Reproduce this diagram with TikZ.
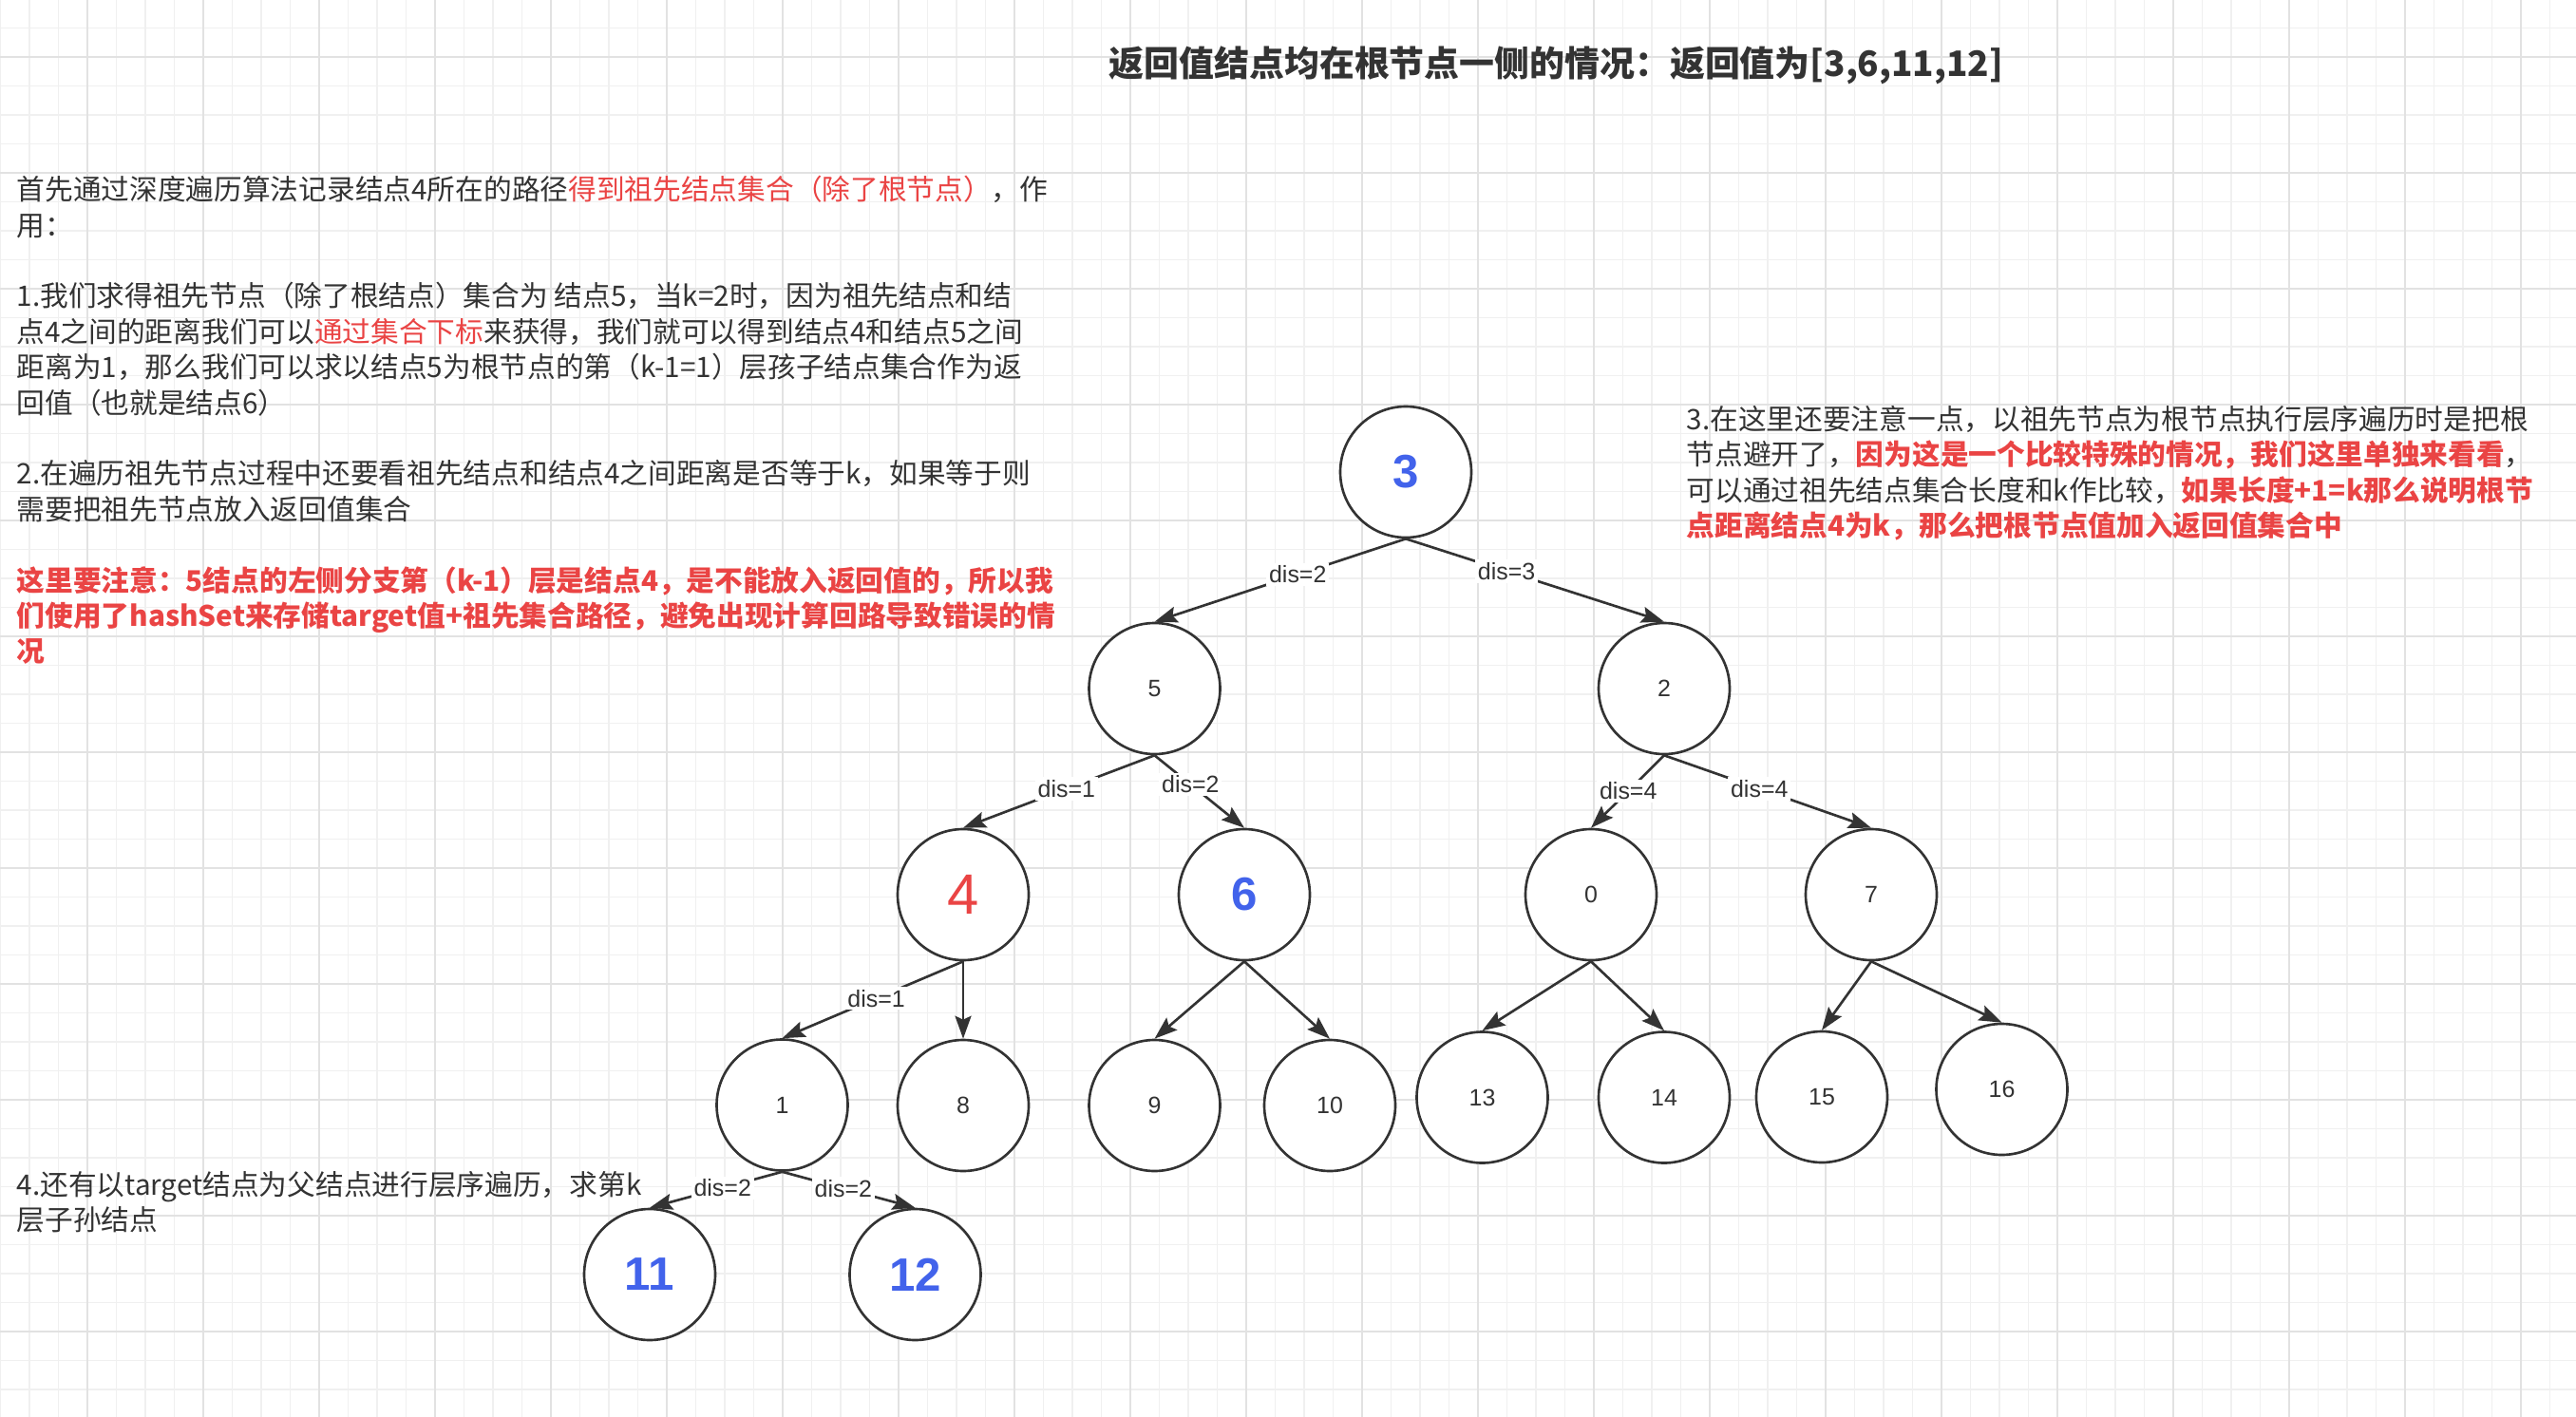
\documentclass[tikz,border=0pt]{standalone}
\usepackage{fontspec}
\setmainfont{Noto Sans CJK SC}
\newfontfamily\latfont{Liberation Sans}
\usepackage{xcolor}
\usepackage{tikz}
\usetikzlibrary{arrows.meta}
\definecolor{inkdark}{HTML}{333333}
\definecolor{notered}{HTML}{EA4444}
\definecolor{hiblue}{HTML}{4263EB}
\definecolor{gridmin}{HTML}{F0F0F0}
\definecolor{gridmaj}{HTML}{E2E2E2}
\newcommand{\redtxt}[1]{\textcolor{notered}{#1}}
\newcommand{\redbf}[1]{{\bfseries\color{notered}#1}}
\tikzset{
  btnode/.style   = {circle, draw=inkdark, line width=0.75pt, fill=white,
                     minimum size=1.38cm, inner sep=0pt, text=inkdark,
                     font=\latfont\fontsize{7.1}{8.5}\selectfont},
  btret/.style    = {btnode, text=hiblue, font=\latfont\bfseries\fontsize{14}{16}\selectfont},
  bttarget/.style = {btnode, text=notered, font=\latfont\fontsize{17}{20}\selectfont},
  btflow/.style   = {-{Stealth[length=2.4mm, width=1.7mm, inset=0.4mm]}, draw=inkdark,
                     line width=0.75pt},
  btlbl/.style    = {font=\latfont\fontsize{7.1}{8.5}\selectfont, text=inkdark,
                     fill=white, inner sep=0.3mm},
  btnote/.style   = {align=left, anchor=west, inner sep=0pt, text=inkdark,
                     font=\fontsize{8.45}{10.64}\selectfont},
  bttitle/.style  = {anchor=west, inner sep=0pt, text=inkdark,
                     font=\bfseries\fontsize{10.5}{13}\selectfont},
}
\begin{document}
\begin{tikzpicture}
  \useasboundingbox (0,0) rectangle (27.12,-14.92);
  \fill[white] (0,0) rectangle (27.12,-14.92);
  \begin{scope}[shift={(0.92,-0.60)}]
    \draw[gridmin, line width=0.5pt, step=0.305] (-0.92,0.60) grid (26.20,-14.32);
    \draw[gridmaj, line width=0.6pt, step=1.22] (-0.92,0.60) grid (26.20,-14.32);
  \end{scope}

  \node[bttitle] (title) at (11.67,-0.69) {返回值结点均在根节点一侧的情况：返回值为[3,6,11,12]};

  \node[btnote] (steps) at (0.17,-4.425) {首先通过深度遍历算法记录结点4所在的路径\redtxt{得到祖先结点集合（除了根节点）}，作\\
用：\\[10.64pt]
1.我们求得祖先节点（除了根结点）集合为 结点5，当k=2时，因为祖先结点和结\\
点4之间的距离我们可以\redtxt{通过集合下标}来获得，我们就可以得到结点4和结点5之间\\
距离为1，那么我们可以求以结点5为根节点的第（k-1=1）层孩子结点集合作为返\\
回值（也就是结点6）\\[10.64pt]
2.在遍历祖先节点过程中还要看祖先结点和结点4之间距离是否等于k，如果等于则\\
需要把祖先节点放入返回值集合\\[10.64pt]
\redbf{这里要注意：5结点的左侧分支第（k-1）层是结点4，是不能放入返回值的，所以我}\\
\redbf{们使用了hashSet来存储target值+祖先集合路径，避免出现计算回路导致错误的情}\\
\redbf{况}};

  \node[btnote] (rootcase) at (17.75,-4.98) {3.在这里还要注意一点，以祖先节点为根节点执行层序遍历时是把根\\
节点避开了，\redbf{因为这是一个比较特殊的情况，我们这里单独来看看}，\\
可以通过祖先结点集合长度和k作比较，\redbf{如果长度+1=k那么说明根节}\\
\redbf{点距离结点4为k，那么把根节点值加入返回值集合中}};

  \node[btnote] (tgt) at (0.17,-12.66) {4.还有以target结点为父结点进行层序遍历，求第k\\
层子孙结点};

  \node[btret]    (n3)  at (14.80,-4.97)   {3};
  \node[btnode]   (n5)  at (12.155,-7.25)  {5};
  \node[btnode]   (n2)  at (17.52,-7.25)   {2};
  \node[bttarget] (n4)  at (10.14,-9.42)   {4};
  \node[btret]    (n6)  at (13.10,-9.42)   {6};
  \node[btnode]   (n0)  at (16.75,-9.42)   {0};
  \node[btnode]   (n7)  at (19.70,-9.42)   {7};
  \node[btnode]   (n1)  at (8.235,-11.635) {1};
  \node[btnode]   (n8)  at (10.14,-11.64)  {8};
  \node[btnode]   (n9)  at (12.155,-11.64) {9};
  \node[btnode]   (n10) at (14.00,-11.64)  {10};
  \node[btnode]   (n13) at (15.605,-11.555){13};
  \node[btnode]   (n14) at (17.52,-11.555) {14};
  \node[btnode]   (n15) at (19.18,-11.55)  {15};
  \node[btnode]   (n16) at (21.075,-11.47) {16};
  \node[btret]    (n11) at (6.84,-13.42)   {11};
  \node[btret]    (n12) at (9.635,-13.42)  {12};

  \draw[btflow] (n3.south) -- node[btlbl,pos=0.43]{dis=2} (n5.north);
  \draw[btflow] (n3.south) -- node[btlbl,pos=0.39]{dis=3} (n2.north);
  \draw[btflow] (n5.south) -- node[btlbl,pos=0.46]{dis=1} (n4.north);
  \draw[btflow] (n5.south) -- node[btlbl,pos=0.40]{dis=2} (n6.north);
  \draw[btflow] (n2.south) -- node[btlbl,pos=0.49]{dis=4} (n0.north);
  \draw[btflow] (n2.south) -- node[btlbl,pos=0.46]{dis=4} (n7.north);
  \draw[btflow] (n4.south) -- node[btlbl,pos=0.48]{dis=1} (n1.north);
  \draw[btflow] (n4.south) -- (n8.north);
  \draw[btflow] (n6.south) -- (n9.north);
  \draw[btflow] (n6.south) -- (n10.north);
  \draw[btflow] (n0.south) -- (n13.north);
  \draw[btflow] (n0.south) -- (n14.north);
  \draw[btflow] (n7.south) -- (n15.north);
  \draw[btflow] (n7.south) -- (n16.north);
  \draw[btflow] (n1.south) -- node[btlbl,pos=0.45]{dis=2} (n11.north);
  \draw[btflow] (n1.south) -- node[btlbl,pos=0.46]{dis=2} (n12.north);
\end{tikzpicture}
\end{document}
